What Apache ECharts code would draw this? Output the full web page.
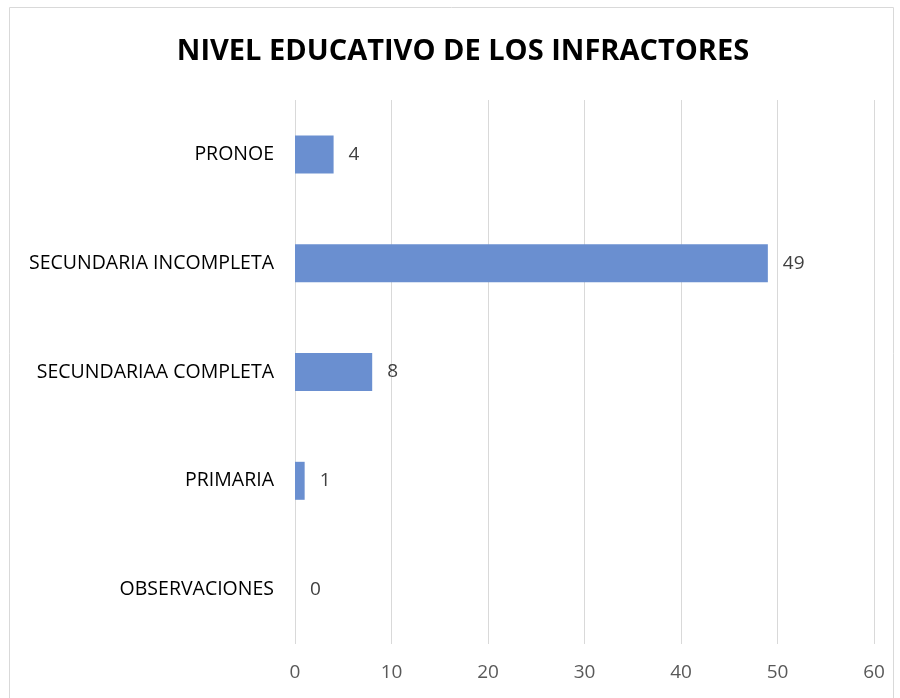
<!DOCTYPE html>
<html>
<head>
<meta charset="utf-8">
<script src="https://cdn.jsdelivr.net/npm/echarts@6/dist/echarts.min.js"></script>
<style>
  html, body { margin: 0; padding: 0; background: #fff; }
  #chart { width: 900px; height: 698px; }
</style>
</head>
<body>
<div id="chart"></div>
<script>
// datos del gráfico (de abajo hacia arriba)
const categories = ['OBSERVACIONES', 'PRIMARIA', 'SECUNDARIAA COMPLETA', 'SECUNDARIA INCOMPLETA', 'PRONOE']
const values = [0, 1, 8, 49, 4]
const titleText = 'NIVEL EDUCATIVO DE LOS INFRACTORES'

const chart = echarts.init(document.getElementById('chart'))
const font = '"Open Sans", "Noto Sans", sans-serif'

chart.setOption({
  animation: false,
  title: {
    text: titleText,
    left: 458,
    top: 32,
    textAlign: 'center',
    textStyle: { fontFamily: font, fontSize: 29, fontWeight: 'bold', color: '#000' }
  },
  graphic: [{
    type: 'rect',
    shape: { x: 9.5, y: 7.5, width: 884, height: 700 },
    style: { fill: 'none', stroke: '#d9d9d9', lineWidth: 1 }
  }],
  grid: { left: 295, right: 26, top: 100, bottom: 54 },
  xAxis: {
    type: 'value',
    min: 0,
    max: 60,
    interval: 10,
    axisLine: { show: false },
    axisTick: { show: false },
    splitLine: { lineStyle: { color: '#d9d9d9', width: 1 } },
    axisLabel: { margin: 19, color: '#595959', fontFamily: font, fontSize: 19 }
  },
  yAxis: {
    type: 'category',
    data: categories,
    axisLine: { show: false },
    axisTick: { show: false },
    axisLabel: { margin: 21, color: '#000', fontFamily: font, fontSize: 19.5 }
  },
  series: [{
    type: 'bar',
    data: values,
    barWidth: 38,
    itemStyle: { color: '#6a8fd0' },
    label: {
      show: true,
      position: 'right',
      distance: 15,
      color: '#404040',
      fontFamily: font,
      fontSize: 19
    }
  }]
})
</script>
</body>
</html>
